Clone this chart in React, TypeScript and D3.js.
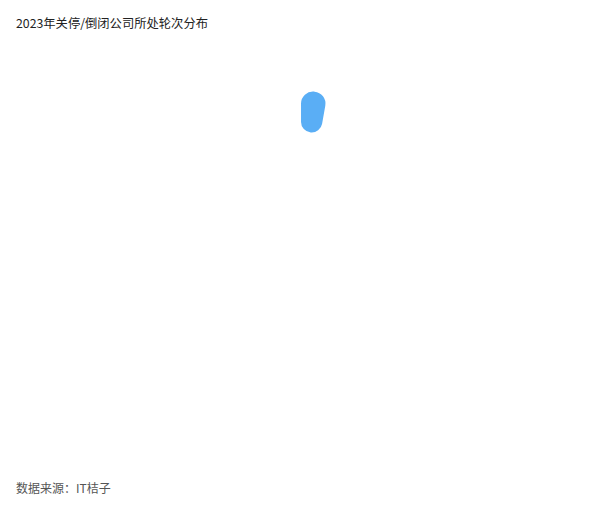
import React from 'react';
import * as d3 from 'd3';

// only the first round's petal is drawn in the reference
const rounds = ['天使轮'];
const counts = [163];
const angleSpan = [10]; // degrees

const title = '2023年关停/倒闭公司所处轮次分布';
const source = '数据来源：IT桔子';

const width = 600;
const height = 510;
const cx = 300;
const cy = 255;
const innerR = 123;

interface Petal {
  name: string;
  value: number;
  startAngle: number;
  endAngle: number;
}

const App: React.FC = () => {
  const rScale = d3.scaleLinear().domain([0, 163]).range([innerR, 164]);
  const arc = d3
    .arc<Petal>()
    .innerRadius(innerR)
    .outerRadius(d => rScale(d.value))
    .cornerRadius(12)
    .padAngle(0.01);

  let acc = 0;
  const petals: Petal[] = rounds.map((name, i) => {
    const start = acc;
    acc += (angleSpan[i] * Math.PI) / 180;
    return { name, value: counts[i], startAngle: start, endAngle: acc };
  });

  return (
    <svg
      width={width}
      height={height}
      style={{ position: 'absolute', left: 0, top: 0, fontFamily: '"Noto Sans CJK SC", "Noto Sans", sans-serif' }}
    >
      <rect width={width} height={height} fill="#fff" />
      <text x={16} y={28} fontSize={12.3} fill="#222">
        {title}
      </text>
      <g transform={`translate(${cx},${cy})`}>
        {petals.map(p => (
          <path key={p.name} d={arc(p) || ''} fill="#5aaef5" />
        ))}
      </g>
      <text x={16} y={493} fontSize={12} fill="#555">
        {source}
      </text>
    </svg>
  );
};

export default App;
